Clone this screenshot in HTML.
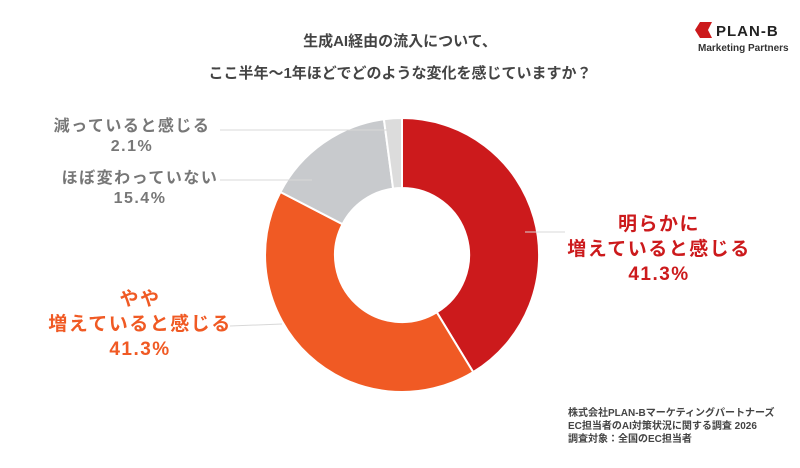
<!DOCTYPE html>
<html><head><meta charset="utf-8"><style>
body{margin:0;width:800px;height:463px;background:#fff;overflow:hidden;font-family:"Liberation Sans","Noto Sans CJK JP",sans-serif;}
svg text{font-family:"Liberation Sans","Noto Sans CJK JP",sans-serif;}
</style></head><body>
<svg width="800" height="463" viewBox="0 0 800 463">
<text x="400" y="46" text-anchor="middle" font-size="15" font-weight="bold" fill="#444">生成AI経由の流入について、</text>
<text x="400" y="78" text-anchor="middle" font-size="15" font-weight="bold" fill="#444">ここ半年〜1年ほどでどのような変化を感じていますか？</text>
<path d="M695 30 L700 22 L712 22 L708 30 L712 38 L700 38 Z" fill="#cc1a1c"/>
<text x="716" y="36" font-size="15" font-weight="bold" fill="#222" letter-spacing="1">PLAN-B</text>
<text x="698" y="51" font-size="10" font-weight="bold" fill="#333">Marketing Partners</text>
<g stroke="#fff" stroke-width="2">
<path d="M402 118 A137 137 0 0 1 473.2 372.1 L436.8 312.3 A67 67 0 0 0 402 188 Z" fill="#cc1a1c"/>
<path d="M473.2 372.1 A137 137 0 0 1 280.4 192 L342.5 224.2 A67 67 0 0 0 436.8 312.3 Z" fill="#f05a24"/>
<path d="M280.4 192 A137 137 0 0 1 383.9 119.2 L393.1 188.6 A67 67 0 0 0 342.5 224.2 Z" fill="#c8cacd"/>
<path d="M383.9 119.2 A137 137 0 0 1 402 118 L402 188 A67 67 0 0 0 393.1 188.6 Z" fill="#dcdcdc"/>
</g>
<g stroke="#d8d8d8" stroke-width="1">
<line x1="220" y1="130" x2="388" y2="130"/>
<line x1="220" y1="180" x2="312" y2="180"/>
<line x1="525" y1="232" x2="565" y2="232"/>
<line x1="230" y1="326" x2="282" y2="324"/>
</g>
<g font-weight="bold" text-anchor="middle">
<text x="132" y="131" font-size="16" fill="#777" letter-spacing="1.5">減っていると感じる</text>
<text x="132" y="151" font-size="16" fill="#777" letter-spacing="1.5">2.1%</text>
<text x="140" y="183" font-size="16" fill="#777" letter-spacing="1.5">ほぼ変わっていない</text>
<text x="140" y="203" font-size="16" fill="#777" letter-spacing="1.5">15.4%</text>
<text x="659" y="230" font-size="19" fill="#cc1a1c" letter-spacing="1.5">明らかに</text>
<text x="659" y="255" font-size="19" fill="#cc1a1c" letter-spacing="1.5">増えていると感じる</text>
<text x="659" y="280" font-size="19" fill="#cc1a1c" letter-spacing="1.5">41.3%</text>
<text x="140" y="305" font-size="19" fill="#f05a24" letter-spacing="1.5">やや</text>
<text x="140" y="330" font-size="19" fill="#f05a24" letter-spacing="1.5">増えていると感じる</text>
<text x="140" y="355" font-size="19" fill="#f05a24" letter-spacing="1.5">41.3%</text>
</g>
<g font-size="10" fill="#444" font-weight="bold">
<text x="568" y="416">株式会社PLAN-Bマーケティングパートナーズ</text>
<text x="568" y="429">EC担当者のAI対策状況に関する調査 2026</text>
<text x="568" y="442">調査対象：全国のEC担当者</text>
</g>
</svg>
</body></html>
